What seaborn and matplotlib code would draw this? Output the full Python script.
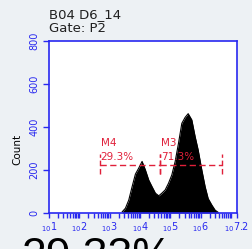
import numpy as np
import seaborn as sns
import matplotlib.pyplot as plt
from matplotlib.ticker import FixedLocator, FixedFormatter, NullFormatter

# histogram: bin centres (log10 of intensity) and counts
log_centres = [3.41, 3.52, 3.63, 3.74, 3.85, 3.96, 4.07, 4.18, 4.29, 4.40,
               4.51, 4.62, 4.72, 4.83, 4.94, 5.05, 5.16, 5.27, 5.38, 5.49,
               5.59, 5.71, 5.82, 5.92, 6.04, 6.15, 6.25, 6.37, 6.48, 6.58]
counts = [5, 22, 60, 122, 181, 209, 240, 200, 153, 122,
          92, 80, 92, 107, 138, 177, 239, 324, 417, 445,
          462, 433, 355, 293, 200, 122, 67, 37, 13, 3]

# markers (gates)
gate_names = ["M4", "M3"]
gate_lo = [2.68, 4.66]
gate_hi = [4.66, 6.72]
gate_pct = ["29.3%", "71.3%"]
gate_level = 223

x_major = [1, 2, 3, 4, 5, 6, 7.2]
x_major_labels = ["1", "2", "3", "4", "5", "6", "7.2"]
y_ticks = [0, 200, 400, 600, 800]

blue = "#2828F0"
red = "#E0203A"
bg = "#EDF1F4"

sns.set_theme(style="white")
plt.rcParams["font.family"] = ["DejaVu Sans"]

fig = plt.figure(figsize=(2.52, 2.49), dpi=100, facecolor=bg)
ax = fig.add_axes([49 / 252, 1 - 213 / 249, 188 / 252, 172 / 249])
ax.set_facecolor("white")

xs = np.power(10.0, log_centres)
ax.fill_between(xs, counts, color="black", lw=0)
sns.lineplot(x=xs, y=counts, ax=ax, color="black", lw=0.8)

ax.set_xscale("log")
ax.set_xlim(10 ** 1, 10 ** 7.2)
ax.set_ylim(0, 800)

# gates
for name, lo, hi, pct in zip(gate_names, gate_lo, gate_hi, gate_pct):
    x0, x1 = 10 ** lo, 10 ** hi
    ax.plot([x0, x1], [gate_level, gate_level], color=red, lw=1,
            dashes=(4.5, 2.5))
    for xe in (x0, x1):
        ax.plot([xe, xe], [gate_level - 40, gate_level + 50], color=red,
                lw=1, dashes=(4, 2))
    ax.annotate(name, (x0, gate_level), xytext=(0.5, 12),
                textcoords="offset points", color=red, fontsize=7.5,
                ha="left", va="bottom")
    ax.annotate(pct, (x0, gate_level), xytext=(0.5, 2),
                textcoords="offset points", color=red, fontsize=7.5,
                ha="left", va="bottom")

# axes styling
for s in ax.spines.values():
    s.set_color(blue)
    s.set_linewidth(1.2)

ax.xaxis.set_major_locator(FixedLocator([10 ** v for v in x_major]))
ax.xaxis.set_major_formatter(FixedFormatter(
    [r"$_{\mathregular{10}}\mathregular{%s}$" % t for t in x_major_labels]))
minors = [m * 10 ** k for k in range(1, 7) for m in range(2, 10)] + [1e7]
ax.xaxis.set_minor_locator(FixedLocator(minors))
ax.xaxis.set_minor_formatter(NullFormatter())
ax.tick_params(axis="x", which="both", bottom=True, direction="out",
               length=3.8, width=1, color=blue, labelcolor=blue,
               labelsize=7, pad=1.5)

ax.set_yticks(y_ticks)
ax.tick_params(axis="y", left=True, direction="out", length=4.3, width=1,
               color=blue, labelcolor=blue, labelsize=7, pad=2.5)
for lab in ax.get_yticklabels():
    lab.set_rotation(90)
    lab.set_va("center")

fig.text(17.5 / 252, 1 - 149 / 249, "Count", rotation=90, ha="center",
         va="center", fontsize=7.5, color="black")
fig.text(49 / 252, 1 - 8 / 249, "B04 D6_14\nGate: P2", ha="left", va="top",
         fontsize=9.5, linespacing=1.1, color="#202020")
# large summary value, mostly below the bottom edge as in the reference
fig.text(22 / 252, 1 - 269 / 249, "29.33%", ha="left", va="baseline",
         fontsize=32, family=["Liberation Sans"], color="black")

fig.savefig("out.png", dpi=100, facecolor=bg)
